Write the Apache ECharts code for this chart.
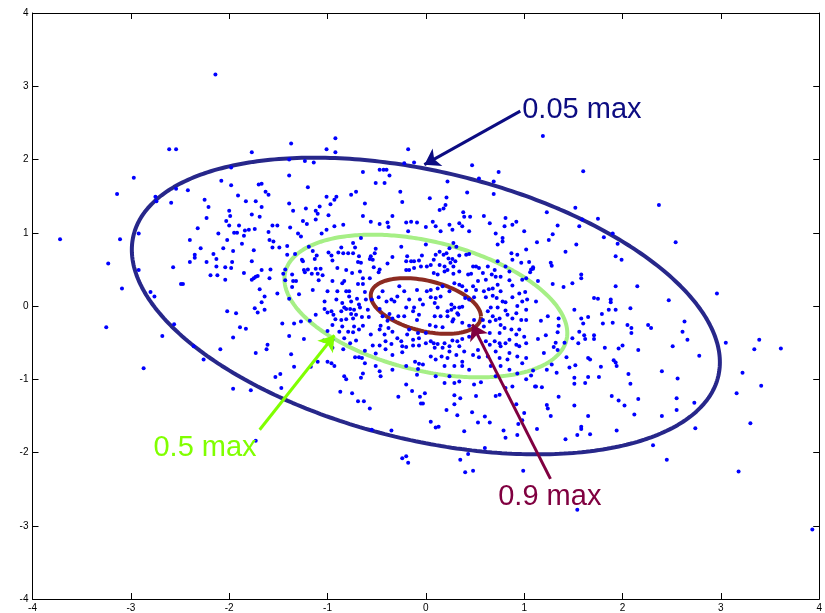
<!DOCTYPE html>
<html>
<head>
<meta charset="utf-8">
<script src="https://cdn.jsdelivr.net/npm/echarts@6/dist/echarts.min.js"></script>
<style>
html,body{margin:0;padding:0;background:#fff}
#main{width:825px;height:613px}
</style>
</head>
<body>
<div id="main"></div>
<script>
// Axis range and ticks
const axisMin = -4, axisMax = 4, axisStep = 1;

// Gaussian model: covariance and contour levels (fraction of peak density)
const covariance = [[1.492, -0.383], [-0.383, 0.6845]];
const levels = [0.05, 0.5, 0.9];
const levelNames = ['0.05 max', '0.5 max', '0.9 max'];
const levelColors = ['#27278a', '#a6ef86', '#8c2b22'];
const noteColors = ['#0c0c82', '#80ff00', '#800040'];

// Annotation arrows (tail -> head) and label anchors, in data units
const arrowFrom = [[0.96, 2.66], [-1.69, -1.69], [1.267, -2.36]];
const arrowTo = [[-0.015, 1.93], [-0.93, -0.40], [0.472, -0.25]];
const labelAt = [[0.98, 2.67], [-2.77, -1.94], [0.736, -2.61]];

// Samples, grouped by region of the plane
const upperLeft = [[-2.14,3.16],[-3.72,0.91],[-3.23,0.58],[-3.11,0.91],[-3.14,1.53],[-2.97,1.75],[-3.09,0.24],[-2.92,0.99],[-2.92,0.49],[-2.61,2.14],[-2.54,2.14],[-2.75,1.49],[-2.74,1.43],[-2.59,1.41],[-2.54,1.60],[-2.42,1.58],[-2.57,0.53],[-2.49,0.30],[-2.47,0.30],[-2.80,0.19],[-2.76,0.13],[-2.40,0.90],[-2.35,0.70],[-2.35,0.66],[-2.32,1.06],[-2.29,0.79],[-2.25,1.45],[-2.21,1.35],[-2.23,1.20],[-2.40,0.60],[-2.23,0.60],[-2.19,0.42],[-2.16,0.71],[-2.13,0.64],[-2.13,0.54],[-2.12,0.42],[-2.11,0.99],[-2.08,1.71],[-2.06,0.79],[-2.04,0.53],[-2.04,0.36],[-2.03,1.16],[-2.02,0.90],[-2.00,1.30],[-1.99,1.23],[-2.00,1.10],[-1.98,1.65],[-1.98,1.89],[-1.97,0.60],[-1.98,0.52],[-1.96,0.75],[-1.95,1.00],[-1.92,1.00],[-1.91,1.51],[-1.90,1.10],[-1.87,0.85],[-1.85,0.45],[-1.84,1.03],[-1.85,0.96],[-1.83,1.43],[-1.80,1.04],[-1.77,1.25],[-1.77,2.10],[-1.77,0.61],[-1.77,0.36],[-1.75,0.38],[-1.73,0.40],[-1.71,0.41],[-1.75,0.76],[-1.74,1.05],[-1.73,1.43],[-1.70,1.66],[-1.67,1.67],[-1.69,1.22],[-1.67,1.35],[-1.67,0.49],[-1.63,1.56],[-1.60,1.52],[-1.60,1.01],[-1.59,0.90],[-1.59,0.38],[-1.58,0.50],[-1.56,0.80],[-1.56,1.10],[-1.51,1.10],[-1.55,0.88],[-1.69,0.23],[-1.64,0.13],[-1.67,0.05],[-1.51,0.17],[-1.49,0.80],[-1.41,0.82],[-1.39,1.78],[-1.39,2.00],[-1.39,1.40],[-1.37,2.22],[-1.35,1.30],[-1.38,1.07],[-1.30,0.99],[-1.27,0.95],[-1.25,1.16],[-1.21,1.12],[-1.22,1.33],[-1.20,1.62],[-1.23,1.98],[-1.14,1.96],[-1.12,1.30],[-1.10,1.26],[-1.12,1.18],[-1.08,1.36],[-1.06,0.99],[-1.01,1.49],[-1.01,1.04],[-1.01,2.14],[-0.99,1.24],[-0.97,1.39],[-0.93,1.45],[-0.91,1.49],[-0.92,2.29],[-0.92,2.10],[-0.76,1.52],[-0.71,1.56],[-0.64,1.83],[-0.62,1.40],[-0.64,1.23],[-0.51,1.68],[-0.47,1.86],[-0.43,1.86],[-0.40,1.86],[-0.42,1.68],[-0.37,1.78],[-0.34,1.23],[-0.26,1.56],[-0.24,1.42],[-0.18,2.14],[-0.22,1.95],[-0.12,1.96],[-1.41,0.70],[-1.33,0.71],[-1.26,0.63],[-1.25,0.61],[-1.36,0.43],[-1.35,0.34],[-1.32,0.34],[-1.36,0.26],[-1.29,0.16],[-1.24,0.49],[-1.23,0.46],[-1.20,0.50],[-1.16,0.44],[-1.19,0.81],[-1.15,0.75],[-1.11,0.69],[-1.13,0.64],[-1.10,0.44],[-1.09,0.35],[-1.15,0.22],[-1.12,0.51],[-1.07,0.51],[-1.05,0.42],[-1.03,0.06],[-1.00,0.20],[-0.99,0.73],[-1.45,0.44],[-1.43,0.35],[-1.39,0.10],[-1.43,0.50]];

const upperRight = [[1.19,2.32],[1.60,1.84],[2.37,1.38],[2.54,0.87],[2.96,0.17],[2.47,0.08],[0.47,1.92],[0.74,1.83],[0.69,1.70],[0.69,1.53],[0.54,1.74],[0.22,1.70],[0.42,1.55],[0.04,1.47],[0.21,1.48],[0.20,1.38],[0.18,1.33],[0.14,1.31],[0.38,1.28],[0.39,1.22],[0.45,1.22],[0.59,1.23],[0.81,1.20],[1.23,1.28],[1.34,1.10],[1.29,0.98],[1.25,0.90],[1.13,0.87],[1.52,1.34],[1.56,1.09],[1.53,0.84],[1.59,1.18],[1.75,1.19],[1.81,0.94],[1.90,0.99],[1.95,0.85],[1.93,0.68],[1.99,0.63],[1.42,0.74],[1.27,0.59],[1.28,0.55],[1.07,0.50],[1.09,0.53],[1.14,0.34],[1.29,0.30],[1.40,0.26],[1.49,0.31],[1.58,0.43],[1.58,0.38],[1.71,0.11],[1.75,0.10],[1.88,0.09],[1.88,0.05],[1.93,0.27],[2.15,0.27],[1.12,0.06],[1.05,0.60],[1.09,0.51],[1.06,0.46]];

const lowerLeft = [[-3.25,-0.29],[-2.87,-0.85],[-2.68,-0.41],[-2.56,-0.25],[-2.36,-0.55],[-2.26,-0.73],[-2.09,-0.59],[-1.96,-1.13],[-1.78,-1.15],[-1.96,-0.43],[-1.89,-0.29],[-1.83,-0.31],[-2.02,-0.07],[-1.93,-0.10],[-1.74,-0.03],[-1.71,-0.09],[-1.64,-0.05],[-1.73,-0.64],[-1.62,-0.59],[-1.61,-0.53],[-1.73,-1.84],[-1.53,-0.97],[-1.48,-0.93],[-1.47,-1.12],[-1.37,-0.66],[-1.34,-0.83],[-1.39,-0.41],[-1.46,-0.24],[-1.34,-0.24],[-1.27,-0.21],[-1.24,-0.45],[-1.17,-0.83],[-1.10,-0.76],[-1.04,-0.47],[-1.00,-0.76],[-1.00,-0.34],[-1.00,-0.09],[-1.18,-0.20],[-1.12,-0.12],[-1.03,-0.04],[-0.87,-1.17],[-0.75,-1.19],[-0.69,-1.30],[-0.63,-1.30],[-0.57,-1.40],[-0.55,-1.69],[-0.35,-1.70],[-0.24,-2.08],[-0.20,-2.05],[-0.18,-2.14],[-0.14,-1.16],[-0.06,-1.24],[-0.05,-1.33],[-0.28,-1.24]];

const lowerRight = [[3.61,-0.58],[3.39,-0.46],[3.34,-0.59],[3.41,-1.09],[3.22,-0.91],[3.16,-1.19],[3.30,-1.60],[3.18,-2.26],[3.05,-0.50],[3.93,-3.05],[2.45,-2.10],[2.31,-1.90],[2.74,-1.67],[2.73,-1.32],[2.55,-1.26],[2.55,-1.42],[2.56,-0.99],[2.40,-0.89],[2.40,-1.50],[2.51,-0.55],[2.78,-0.68],[2.66,-0.46],[2.61,-0.35],[2.63,-0.21],[2.29,-0.30],[2.26,-0.26],[2.16,-0.60],[2.12,-1.48],[2.16,-1.27],[2.06,-0.93],[2.08,-1.06],[2.02,-1.36],[1.96,-1.29],[1.94,-1.70],[1.89,-1.23],[1.94,-0.82],[1.93,-0.77],[2.00,-0.54],[1.96,-0.58],[2.09,-0.30],[2.09,-0.37],[2.05,-0.26],[1.90,-0.23],[1.91,-0.74],[1.82,-0.57],[1.78,-0.83],[1.76,-0.97],[1.65,-0.97],[1.62,-1.05],[1.51,-0.98],[1.51,-1.06],[1.65,-0.71],[1.67,-0.73],[1.52,-0.81],[1.46,-0.84],[1.33,-0.91],[1.35,-1.24],[1.51,-1.36],[1.42,-1.82],[1.54,-1.76],[1.58,-1.68],[1.58,-1.65],[1.67,-1.75],[1.65,-1.50],[1.23,-1.35],[1.24,-1.40],[1.27,-1.50],[1.13,-1.68],[1.11,-1.10],[1.18,-1.11],[1.00,-1.46],[0.92,-1.34],[0.93,-1.76],[0.81,-1.80],[0.94,-1.61],[0.98,-1.56],[0.79,-1.70],[0.99,-2.25],[1.54,-2.78],[0.60,-1.51],[0.65,-1.59],[0.53,-1.59],[0.47,-1.45],[0.39,-1.71],[0.32,-1.49],[0.21,-1.42],[0.29,-1.34],[0.35,-1.26],[0.29,-1.22],[0.60,-1.94],[0.40,-2.27],[0.48,-2.25],[0.35,-2.10],[0.43,-2.02],[0.05,-1.58],[0.10,-1.66],[0.13,-1.65],[-0.03,-1.33],[-0.01,-1.19],[0.51,-1.23],[0.71,-1.23],[0.75,-1.21],[1.24,-0.14],[1.17,-0.20],[1.14,-0.45],[1.22,-0.40],[1.35,-0.17],[1.35,-0.27],[1.34,-0.36],[1.32,-0.50],[1.30,-0.56],[1.34,-0.60],[1.28,-0.80],[1.20,-0.64],[1.09,-0.88],[1.07,-0.95],[1.12,-1.10],[1.23,-0.87],[1.43,-0.70],[1.41,-0.50],[1.49,-0.44],[1.55,-0.51],[1.61,-0.40],[1.62,-0.45],[1.71,-0.40],[1.71,-0.45],[1.65,-0.15],[1.60,-0.24],[1.56,-0.35],[1.58,-0.17],[1.51,-0.05],[1.79,-0.11],[1.80,-0.24],[1.86,-0.05],[1.93,-0.05],[2.08,-0.03]];

// Central block, left half (x from about -1 to 0)
const coreLeft = [[-0.93,1.09],[-0.84,1.11],[-0.56,1.15],[-0.47,1.12],[-0.39,1.14],[-0.38,1.08],[-0.20,1.14],[-0.15,1.15],[-0.09,1.14],[-0.18,1.02],[0.00,1.08],[-0.74,0.86],[-0.72,0.80],[-0.66,0.93],[-0.86,0.80],[-0.89,0.73],[-0.84,0.72],[-0.79,0.72],[-0.96,0.69],[-0.95,0.62],[-0.74,0.72],[-0.68,0.68],[-0.69,0.60],[-0.66,0.59],[-0.52,0.72],[-0.56,0.68],[-0.51,0.78],[-0.34,0.67],[-0.25,0.81],[-0.19,0.68],[-0.20,0.61],[-0.15,0.61],[-0.12,0.61],[-0.07,0.62],[-0.04,0.69],[0.00,0.84],[-0.90,0.52],[-0.81,0.49],[-0.75,0.45],[-0.67,0.47],[-0.57,0.64],[-0.54,0.63],[-0.53,0.53],[-0.48,0.46],[-0.47,0.50],[-0.39,0.58],[-0.64,0.38],[-0.57,0.38],[-0.95,0.34],[-0.83,0.34],[-0.85,0.31],[-0.64,0.30],[-0.69,0.30],[-0.20,0.49],[-0.17,0.49],[-0.12,0.52],[-0.05,0.54],[0.01,0.54],[-0.90,0.20],[-0.81,0.20],[-0.78,0.20],[-0.91,0.09],[-0.85,0.04],[-0.83,-0.02],[-0.78,0.13],[-0.76,0.06],[-0.70,0.10],[-0.62,0.19],[-0.61,0.09],[-0.68,0.02],[-0.55,0.09],[-0.48,0.12],[-0.44,0.20],[-0.40,0.06],[-0.35,0.09],[-0.32,0.06],[-0.29,0.13],[-0.27,0.27],[-0.22,0.20],[-0.17,0.09],[-0.12,-0.02],[-0.09,0.22],[-0.06,0.09],[-0.03,0.02],[0.01,0.20],[-0.96,-0.07],[-0.94,-0.12],[-0.86,-0.07],[-0.81,-0.04],[-0.77,-0.04],[-0.76,-0.11],[-0.73,-0.05],[-0.71,-0.12],[-0.67,-0.02],[-0.59,-0.05],[-0.92,-0.18],[-0.86,-0.19],[-0.81,-0.18],[-0.74,-0.17],[-0.65,-0.15],[-0.58,-0.15],[-0.95,-0.26],[-0.85,-0.28],[-0.73,-0.28],[-0.47,-0.04],[-0.44,-0.14],[-0.39,-0.20],[-0.37,-0.11],[-0.34,-0.17],[-0.28,-0.14],[-0.20,-0.02],[-0.13,-0.07],[-0.22,-0.14],[-0.09,-0.19],[-0.07,-0.12],[-0.88,-0.35],[-0.79,-0.35],[-0.74,-0.36],[-0.68,-0.32],[-0.64,-0.27],[-0.56,-0.39],[-0.47,-0.32],[-0.46,-0.27],[-0.42,-0.39],[-0.38,-0.30],[-0.34,-0.35],[-0.29,-0.44],[-0.25,-0.48],[-0.19,-0.39],[-0.17,-0.32],[-0.13,-0.46],[-0.08,-0.37],[-0.07,-0.44],[0.00,-0.37],[-0.95,-0.46],[-0.83,-0.44],[-0.77,-0.51],[-0.71,-0.47],[-0.54,-0.54],[-0.47,-0.54],[-0.41,-0.48],[-0.35,-0.52],[-0.24,-0.55],[-0.20,-0.56],[-0.13,-0.54],[-0.07,-0.54],[0.00,-0.51],[-0.95,-0.57],[-0.84,-0.59],[-0.62,-0.61],[-0.51,-0.65],[-0.41,-0.59],[-0.34,-0.67],[-0.24,-0.63],[-0.96,-0.78],[-0.72,-0.70],[-0.68,-0.70],[-0.65,-0.71],[-0.62,-0.78],[-0.93,-0.82],[-0.83,-0.96],[-0.81,-1.00],[-0.66,-0.98],[-0.64,-0.92],[-0.47,-0.89],[-0.46,-0.96],[-0.51,-0.82],[-0.34,-0.87],[-0.20,-0.82],[-0.11,-0.76],[-0.07,-0.79],[-0.09,-0.94],[-0.20,-1.07],[-0.08,-0.86],[-0.03,-0.80]];

// Central block, right half (x from about 0 to 1)
const coreRight = [[0.07,1.15],[0.10,1.09],[0.15,1.02],[0.24,1.11],[0.27,1.04],[0.34,1.13],[0.37,1.09],[0.44,1.02],[0.65,1.13],[0.71,0.99],[0.80,1.09],[0.88,1.11],[0.92,1.15],[1.00,1.02],[0.73,0.84],[0.78,0.88],[0.87,0.72],[0.93,0.70],[1.02,0.77],[0.78,0.93],[0.10,0.70],[0.14,0.74],[0.18,0.70],[0.21,0.72],[0.24,0.79],[0.28,0.86],[0.31,0.81],[0.34,0.69],[0.41,0.70],[0.44,0.71],[0.23,0.65],[0.27,0.64],[0.30,0.61],[0.08,0.63],[0.05,0.56],[0.14,0.56],[0.19,0.54],[0.25,0.59],[0.28,0.54],[0.34,0.47],[0.48,0.54],[0.51,0.54],[0.54,0.52],[0.58,0.45],[0.63,0.54],[0.70,0.49],[0.73,0.61],[0.81,0.54],[0.85,0.47],[0.88,0.63],[0.97,0.59],[0.08,0.45],[0.12,0.43],[0.19,0.47],[0.22,0.49],[0.28,0.44],[0.43,0.43],[0.46,0.44],[0.53,0.34],[0.61,0.36],[0.67,0.43],[0.71,0.40],[0.76,0.40],[0.85,0.35],[0.98,0.36],[1.02,0.38],[0.05,0.22],[0.12,0.24],[0.17,0.27],[0.24,0.20],[0.29,0.31],[0.34,0.29],[0.37,0.27],[0.41,0.21],[0.48,0.27],[0.51,0.22],[0.59,0.20],[0.64,0.23],[0.68,0.24],[0.73,0.29],[0.76,0.20],[0.88,0.28],[0.95,0.17],[1.01,0.19],[0.05,0.12],[0.10,0.11],[0.15,0.13],[0.09,0.04],[0.26,0.02],[0.29,-0.02],[0.26,-0.05],[0.34,-0.02],[0.37,-0.01],[0.32,-0.10],[0.22,-0.07],[0.12,-0.02],[0.40,0.11],[0.44,0.09],[0.49,0.12],[0.61,0.12],[0.68,0.14],[0.72,0.11],[0.78,0.06],[0.81,0.05],[0.88,0.12],[0.93,0.00],[0.98,0.06],[1.03,0.09],[0.66,-0.02],[0.73,-0.02],[0.63,-0.07],[0.81,-0.06],[0.92,-0.10],[1.02,-0.05],[0.09,-0.14],[0.15,-0.14],[0.22,-0.14],[0.28,-0.18],[0.33,-0.12],[0.27,-0.21],[0.37,-0.23],[0.44,-0.27],[0.49,-0.19],[0.04,-0.26],[0.10,-0.28],[0.17,-0.29],[0.58,-0.19],[0.59,-0.28],[0.65,-0.21],[0.68,-0.14],[0.71,-0.19],[0.75,-0.17],[0.76,-0.26],[0.83,-0.12],[0.88,-0.17],[0.97,-0.19],[1.02,-0.19],[0.80,-0.30],[0.87,-0.32],[0.95,-0.32],[0.65,-0.37],[0.75,-0.37],[0.92,-0.39],[1.00,-0.42],[0.05,-0.48],[0.08,-0.51],[0.12,-0.52],[0.19,-0.51],[0.24,-0.55],[0.27,-0.47],[0.32,-0.48],[0.37,-0.45],[0.44,-0.42],[0.09,-0.57],[0.17,-0.57],[0.24,-0.62],[0.34,-0.55],[0.39,-0.62],[0.61,-0.48],[0.65,-0.53],[0.70,-0.48],[0.75,-0.51],[0.76,-0.55],[0.81,-0.51],[0.85,-0.46],[0.92,-0.53],[0.95,-0.55],[1.02,-0.51],[0.53,-0.60],[0.71,-0.62],[0.85,-0.64],[0.05,-0.69],[0.10,-0.73],[0.16,-0.69],[0.22,-0.71],[0.31,-0.67],[0.37,-0.76],[0.48,-0.67],[0.54,-0.70],[0.63,-0.69],[0.75,-0.71],[0.83,-0.73],[0.93,-0.69],[1.02,-0.71],[0.19,-0.82],[0.29,-0.82],[0.37,-0.82],[0.44,-0.87],[0.66,-0.82],[0.76,-0.82],[0.85,-0.87],[0.93,-0.92],[0.98,-0.78],[0.24,-0.96],[0.19,-1.05],[0.29,-1.05],[0.34,-1.03],[0.49,-1.07],[0.56,-1.04],[1.02,-1.00],[0.10,-0.96],[0.88,-1.10],[0.81,-1.12],[0.71,-0.96]];

const samples = [].concat(upperLeft, upperRight, lowerLeft, lowerRight, coreLeft, coreRight);

// Iso-density ellipse of a zero-mean Gaussian at the given fraction of the peak
function contour(level, steps) {
  const k = Math.sqrt(-2 * Math.log(level));
  const l11 = Math.sqrt(covariance[0][0]);
  const l21 = covariance[1][0] / l11;
  const l22 = Math.sqrt(covariance[1][1] - l21 * l21);
  const pts = [];
  for (let i = 0; i <= steps; i++) {
    const t = 2 * Math.PI * i / steps;
    const c = Math.cos(t), s = Math.sin(t);
    pts.push([k * l11 * c, k * (l21 * c + l22 * s)]);
  }
  return pts;
}

const fontFamily = '"Liberation Sans", Arial, Helvetica, sans-serif';

function axisBase(extra) {
  return Object.assign({
    type: 'value', min: axisMin, max: axisMax, interval: axisStep,
    axisLine: { show: true, onZero: false, lineStyle: { color: '#000', width: 1 } },
    axisTick: { show: true, inside: true, length: 6, lineStyle: { color: '#000', width: 1 } },
    splitLine: { show: false },
    axisLabel: { show: true, color: '#000', fontSize: 10, fontFamily: fontFamily, margin: 4 }
  }, extra);
}

const series = [];
levels.forEach((lv, i) => {
  series.push({
    type: 'line', name: levelNames[i], data: contour(lv, 360),
    showSymbol: false, symbol: 'none', smooth: false, z: 2,
    lineStyle: { color: levelColors[i], width: 4, opacity: 1 }
  });
});
series.push({
  type: 'scatter', name: 'samples', data: samples, z: 3,
  symbol: 'circle', symbolSize: 4,
  itemStyle: { color: '#0000ff', opacity: 1 }
});
series.push({
  type: 'lines', coordinateSystem: 'cartesian2d', z: 4,
  symbol: ['none', 'arrow'], symbolSize: 15,
  data: arrowFrom.map((p, i) => ({
    coords: [p, arrowTo[i]],
    lineStyle: { color: noteColors[i], width: 3, opacity: 1 }
  })),
  lineStyle: { opacity: 1, curveness: 0 }
});
series.push({
  type: 'scatter', name: 'notes', z: 5, symbolSize: 0, silent: true,
  itemStyle: { opacity: 1 },
  data: labelAt.map((p, i) => ({
    value: p, name: levelNames[i],
    label: { color: noteColors[i] }
  })),
  label: {
    show: true, position: 'right', distance: 0, formatter: '{b}',
    fontSize: 29, fontFamily: fontFamily, align: 'left', verticalAlign: 'middle'
  }
});

const chart = echarts.init(document.getElementById('main'), null, { renderer: 'canvas' });
chart.setOption({
  animation: false,
  backgroundColor: '#fff',
  grid: { left: 32.5, right: 4.5, top: 13, bottom: 13.4, containLabel: false },
  xAxis: [
    axisBase({ position: 'bottom' }),
    axisBase({ position: 'top', axisLabel: { show: false } })
  ],
  yAxis: [
    axisBase({ position: 'left' }),
    axisBase({ position: 'right', axisLabel: { show: false } })
  ],
  series: series
});
</script>
</body>
</html>
